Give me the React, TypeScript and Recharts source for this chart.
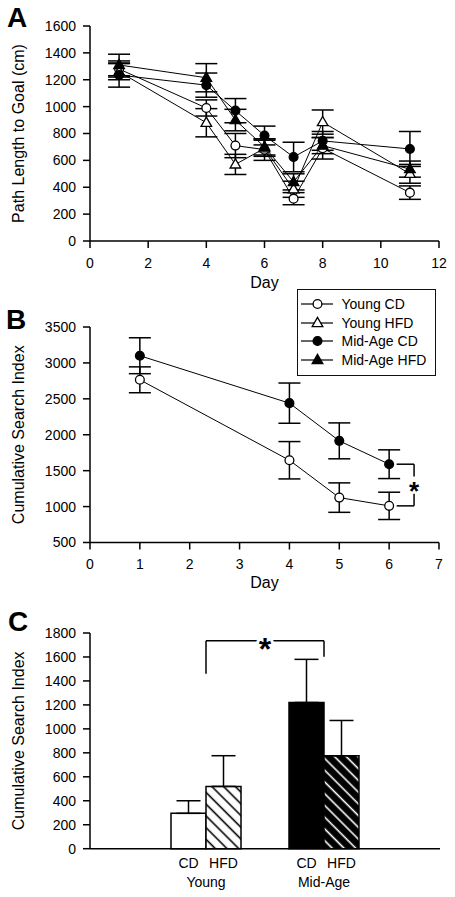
import React from 'react';
import {
  LineChart,
  Line,
  BarChart,
  Bar,
  Cell,
  XAxis,
  YAxis,
  ErrorBar,
  Legend,
  ReferenceLine,
  ReferenceDot,
} from 'recharts';

const FONT = '"Liberation Sans", Arial, Helvetica, sans-serif';

// ---------- Panel A: path length to goal ----------
const daysA = [1, 4, 5, 6, 7, 8, 11];
const youngCdA = [1280, 990, 710, 680, 315, 690, 360];
const youngCdAErr = [60, 60, 90, 80, 45, 80, 50];
const youngHfdA = [1260, 880, 570, 690, 385, 885, 500];
const youngHfdAErr = [60, 105, 75, 60, 60, 90, 70];
const midCdA = [1235, 1160, 970, 785, 625, 745, 685];
const midCdAErr = [90, 90, 90, 70, 110, 70, 130];
const midHfdA = [1310, 1215, 900, 700, 440, 710, 535];
const midHfdAErr = [80, 105, 80, 60, 60, 60, 60];
const dayTicksA = [0, 2, 4, 6, 8, 10, 12];
const valueTicksA = [0, 200, 400, 600, 800, 1000, 1200, 1400, 1600];

// ---------- Panel B: cumulative search index by day ----------
const daysB = [1, 4, 5, 6];
const youngCdB = [2765, 1645, 1125, 1010];
const youngCdBErr = [180, 260, 205, 190];
const midCdB = [3100, 2440, 1915, 1590];
const midCdBErr = [250, 280, 250, 200];
const dayTicksB = [0, 1, 2, 3, 4, 5, 6, 7];
const valueTicksB = [500, 1000, 1500, 2000, 2500, 3000, 3500];

// ---------- Panel C: cumulative search index bars ----------
const groupsC = ['Young', 'Mid-Age'];
const dietLabelsC = ['CD', 'HFD'];
const cdC = [295, 1220];
const cdCErr = [105, 360];
const hfdC = [520, 775];
const hfdCErr = [256, 295];
const valueTicksC = [0, 200, 400, 600, 800, 1000, 1200, 1400, 1600, 1800];
// significance bracket levels (data units)
const bracketTopC = 1736;
const bracketLeftEndC = 1460;
const bracketRightEndC = 1602;

// ---------- Series / legend definitions ----------
const seriesNames = ['Young CD', 'Young HFD', 'Mid-Age CD', 'Mid-Age HFD'];
const seriesKeys = ['youngCD', 'youngHFD', 'midCD', 'midHFD'];
const seriesShapes = ['circle', 'triangle', 'circle', 'triangle'];
const seriesFilled = [false, false, true, true];

const dataA = daysA.map((d, i) => ({
  day: d,
  youngCD: youngCdA[i],
  youngCDErr: youngCdAErr[i],
  youngHFD: youngHfdA[i],
  youngHFDErr: youngHfdAErr[i],
  midCD: midCdA[i],
  midCDErr: midCdAErr[i],
  midHFD: midHfdA[i],
  midHFDErr: midHfdAErr[i],
}));

const dataB = daysB.map((d, i) => ({
  day: d,
  youngCD: youngCdB[i],
  youngCDErr: youngCdBErr[i],
  midCD: midCdB[i],
  midCDErr: midCdBErr[i],
}));

const dataC = groupsC.map((g, i) => ({
  group: g,
  cd: cdC[i],
  cdErr: [0, cdCErr[i]],
  hfd: hfdC[i],
  hfdErr: [0, hfdCErr[i]],
}));

const cdFills = ['#ffffff', '#000000'];
const hfdFills = ['url(#hatchOnWhite)', 'url(#hatchOnBlack)'];

const axisLineStyle = { stroke: '#000', strokeWidth: 1.5 };
const tickLineStyle = { stroke: '#000', strokeWidth: 1.5 };
const tickStyle = { fill: '#000', fontSize: 14, fontFamily: FONT };

function Marker({ cx, cy, shape, filled }: any) {
  if (cx == null || cy == null || isNaN(cx) || isNaN(cy)) return null;
  const fill = filled ? '#000' : '#fff';
  if (shape === 'circle') {
    return <circle cx={cx} cy={cy} r={4.4} fill={fill} stroke="#000" strokeWidth={1.3} />;
  }
  return (
    <path
      d={`M${cx},${cy - 5.6}L${cx + 5.3},${cy + 3.6}L${cx - 5.3},${cy + 3.6}Z`}
      fill={fill}
      stroke="#000"
      strokeWidth={1.3}
    />
  );
}

function makeDot(idx: number) {
  return (p: any) => (
    <Marker
      key={`${seriesKeys[idx]}-${p.index}`}
      cx={p.cx}
      cy={p.cy}
      shape={seriesShapes[idx]}
      filled={seriesFilled[idx]}
    />
  );
}

function yLabel(text: string) {
  return {
    value: text,
    angle: -90,
    position: 'insideLeft' as const,
    offset: 18,
    fontSize: 16,
    fontFamily: FONT,
    fill: '#000',
    style: { textAnchor: 'middle' },
  };
}

const dayLabel = {
  value: 'Day',
  position: 'insideBottom' as const,
  offset: 4,
  fontSize: 16,
  fontFamily: FONT,
  fill: '#000',
};

function LegendBox() {
  return (
    <div
      style={{
        width: 139,
        height: 87,
        boxSizing: 'border-box',
        border: '1.5px solid #111',
        background: '#fff',
        paddingTop: 5,
        paddingLeft: 3.5,
        fontFamily: FONT,
        fontSize: 14,
        color: '#000',
      }}
    >
      {seriesNames.map((name, i) => (
        <div
          key={name}
          style={{ height: 18.4, display: 'flex', alignItems: 'center', whiteSpace: 'nowrap' }}
        >
          <svg width={32} height={14} style={{ display: 'block', flex: 'none' }}>
            <line x1={0} y1={7} x2={32} y2={7} stroke="#000" strokeWidth={1.2} />
            <Marker cx={16.5} cy={7} shape={seriesShapes[i]} filled={seriesFilled[i]} />
          </svg>
          <span style={{ marginLeft: 8.5, lineHeight: '14px' }}>{name}</span>
        </div>
      ))}
    </div>
  );
}

function GroupTick(props: any) {
  const { x, y, payload } = props;
  const common = { fontSize: 14, fontFamily: FONT, fill: '#000', textAnchor: 'middle' as const };
  return (
    <g>
      <text x={x - 17.5} y={y + 19.6} {...common}>
        {dietLabelsC[0]}
      </text>
      <text x={x + 17.5} y={y + 19.6} {...common}>
        {dietLabelsC[1]}
      </text>
      <text x={x} y={y + 38} {...common}>
        {payload.value}
      </text>
    </g>
  );
}

function Star({ cx, cy, size, shift = 0, halo = false }: any) {
  if (cx == null || cy == null || isNaN(cx) || isNaN(cy)) return null;
  return (
    <text
      x={cx}
      y={cy + shift}
      dy="0.6em"
      textAnchor="middle"
      fontSize={size}
      fontWeight="bold"
      fontFamily={FONT}
      fill="#000"
      stroke={halo ? '#fff' : 'none'}
      strokeWidth={halo ? 6 : 0}
      paintOrder="stroke"
      strokeLinejoin="round"
    >
      *
    </text>
  );
}

function StarLabel(props: any) {
  const vb = props.viewBox || {};
  const cx = (vb.x ?? 0) + (vb.width ?? 0) / 2;
  const cy = (vb.y ?? 0) + (vb.height ?? 0) / 2;
  return <Star cx={cx} cy={cy} size={32} shift={0} halo />;
}

const letterStyle: React.CSSProperties = {
  position: 'absolute',
  fontFamily: FONT,
  fontWeight: 'bold',
  fontSize: 28,
  lineHeight: 1,
  color: '#000',
};

export default function App() {
  const bStarY = (midCdB[3] + youngCdB[3]) / 2;
  return (
    <div
      style={{
        position: 'absolute',
        left: 0,
        top: 0,
        width: 455,
        height: 897,
        background: '#fff',
        fontFamily: FONT,
        overflow: 'hidden',
      }}
    >
      {/* Panel A */}
      <div style={{ position: 'absolute', left: 0, top: 0 }}>
        <LineChart width={455} height={292} data={dataA} margin={{ top: 26, right: 16, bottom: 0, left: 0 }}>
          <XAxis
            dataKey="day"
            type="number"
            domain={[0, 12]}
            ticks={dayTicksA}
            interval={0}
            height={51}
            tickSize={7}
            tickMargin={10}
            axisLine={axisLineStyle}
            tickLine={tickLineStyle}
            tick={tickStyle}
            label={dayLabel}
          />
          <YAxis
            type="number"
            domain={[0, 1600]}
            ticks={valueTicksA}
            interval={0}
            width={90}
            tickSize={7}
            tickMargin={7}
            axisLine={axisLineStyle}
            tickLine={tickLineStyle}
            tick={tickStyle}
            label={yLabel('Path Length to Goal (cm)')}
          />
          {seriesKeys.map((k, i) => (
            <Line
              key={k}
              dataKey={k}
              name={seriesNames[i]}
              stroke="#000"
              strokeWidth={1}
              isAnimationActive={false}
              dot={makeDot(i)}
              activeDot={false}
            >
              <ErrorBar dataKey={`${k}Err`} width={11} stroke="#000" strokeWidth={1.5} direction="y" />
            </Line>
          ))}
        </LineChart>
      </div>

      {/* Panel B */}
      <div style={{ position: 'absolute', left: 0, top: 285 }}>
        <LineChart width={455} height={307} data={dataB} margin={{ top: 42, right: 16, bottom: 0, left: 0 }}>
          <XAxis
            dataKey="day"
            type="number"
            domain={[0, 7]}
            ticks={dayTicksB}
            interval={0}
            height={49.5}
            tickSize={7}
            tickMargin={10}
            axisLine={axisLineStyle}
            tickLine={tickLineStyle}
            tick={tickStyle}
            label={dayLabel}
          />
          <YAxis
            type="number"
            domain={[500, 3500]}
            ticks={valueTicksB}
            interval={0}
            width={90}
            tickSize={7}
            tickMargin={7}
            axisLine={axisLineStyle}
            tickLine={tickLineStyle}
            tick={tickStyle}
            label={yLabel('Cumulative Search Index')}
          />
          <Line
            dataKey="youngCD"
            name={seriesNames[0]}
            stroke="#000"
            strokeWidth={1}
            isAnimationActive={false}
            dot={makeDot(0)}
            activeDot={false}
          >
            <ErrorBar dataKey="youngCDErr" width={11} stroke="#000" strokeWidth={1.5} direction="y" />
          </Line>
          <Line
            dataKey="midCD"
            name={seriesNames[2]}
            stroke="#000"
            strokeWidth={1}
            isAnimationActive={false}
            dot={makeDot(2)}
            activeDot={false}
          >
            <ErrorBar dataKey="midCDErr" width={11} stroke="#000" strokeWidth={1.5} direction="y" />
          </Line>
          <ReferenceLine segment={[{ x: 6.15, y: midCdB[3] }, { x: 6.5, y: midCdB[3] }]} stroke="#000" strokeWidth={1.5} />
          <ReferenceLine segment={[{ x: 6.15, y: youngCdB[3] }, { x: 6.5, y: youngCdB[3] }]} stroke="#000" strokeWidth={1.5} />
          <ReferenceLine segment={[{ x: 6.5, y: midCdB[3] }, { x: 6.5, y: 1420 }]} stroke="#000" strokeWidth={1.5} />
          <ReferenceLine segment={[{ x: 6.5, y: 1180 }, { x: 6.5, y: youngCdB[3] }]} stroke="#000" strokeWidth={1.5} />
          <ReferenceDot x={6.5} y={bStarY} r={0} shape={(p: any) => <Star cx={p.cx} cy={p.cy} size={26} shift={-1} />} />
          <Legend
            layout="vertical"
            align="center"
            verticalAlign="middle"
            content={() => <LegendBox />}
            wrapperStyle={{ position: 'absolute', left: 296.5, top: 4.3, width: 139, height: 87 }}
          />
        </LineChart>
      </div>

      {/* Panel C */}
      <div style={{ position: 'absolute', left: 0, top: 592 }}>
        <BarChart
          width={455}
          height={305}
          data={dataC}
          margin={{ top: 41, right: 15, bottom: 0, left: 0 }}
          barSize={35}
          barGap={0}
        >
          <defs>
            <pattern id="hatchOnWhite" patternUnits="userSpaceOnUse" width={8.3} height={8.3} patternTransform="rotate(-45)">
              <rect x={0} y={0} width={8.3} height={8.3} fill="#fff" />
              <line x1={4} y1={-1} x2={4} y2={9.3} stroke="#000" strokeWidth={1.6} />
            </pattern>
            <pattern id="hatchOnBlack" patternUnits="userSpaceOnUse" width={8.3} height={8.3} patternTransform="rotate(-45)">
              <rect x={0} y={0} width={8.3} height={8.3} fill="#000" />
              <line x1={4} y1={-1} x2={4} y2={9.3} stroke="#fff" strokeWidth={1.6} />
            </pattern>
          </defs>
          <XAxis
            dataKey="group"
            type="category"
            padding={{ left: 57, right: 57 }}
            interval={0}
            height={48.3}
            tickLine={false}
            tickSize={0}
            tickMargin={0}
            axisLine={axisLineStyle}
            tick={<GroupTick />}
          />
          <YAxis
            type="number"
            domain={[0, 1800]}
            ticks={valueTicksC}
            interval={0}
            width={90}
            tickSize={7}
            tickMargin={7}
            axisLine={axisLineStyle}
            tickLine={tickLineStyle}
            tick={tickStyle}
            label={yLabel('Cumulative Search Index')}
          />
          <Bar dataKey="cd" name="CD" stroke="#000" strokeWidth={1.5} isAnimationActive={false}>
            {dataC.map((d, i) => (
              <Cell key={`cd-${i}`} fill={cdFills[i]} />
            ))}
            <ErrorBar dataKey="cdErr" width={12} stroke="#000" strokeWidth={1.5} direction="y" />
          </Bar>
          <Bar dataKey="hfd" name="HFD" stroke="#000" strokeWidth={1.5} isAnimationActive={false}>
            {dataC.map((d, i) => (
              <Cell key={`hfd-${i}`} fill={hfdFills[i]} />
            ))}
            <ErrorBar dataKey="hfdErr" width={12} stroke="#000" strokeWidth={1.5} direction="y" />
          </Bar>
          <ReferenceLine
            segment={[{ x: groupsC[0], y: bracketLeftEndC }, { x: groupsC[0], y: bracketTopC }]}
            stroke="#000"
            strokeWidth={1.5}
          />
          <ReferenceLine
            segment={[{ x: groupsC[1], y: bracketTopC }, { x: groupsC[1], y: bracketRightEndC }]}
            stroke="#000"
            strokeWidth={1.5}
          />
          <ReferenceLine
            segment={[{ x: groupsC[0], y: bracketTopC }, { x: groupsC[1], y: bracketTopC }]}
            stroke="#000"
            strokeWidth={1.5}
            label={<StarLabel />}
          />
        </BarChart>
      </div>

      <div style={{ ...letterStyle, left: 7, top: 3.7 }}>A</div>
      <div style={{ ...letterStyle, left: 6, top: 306.3 }}>B</div>
      <div style={{ ...letterStyle, left: 8, top: 608 }}>C</div>
    </div>
  );
}
